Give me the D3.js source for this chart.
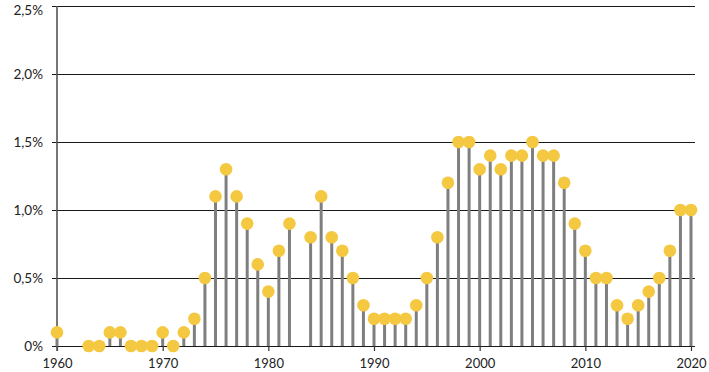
<!DOCTYPE html>
<html><head><meta charset="utf-8">
<script src="https://cdn.jsdelivr.net/npm/d3@7"></script>
<style>body{margin:0;background:#fff}svg{display:block}</style>
</head><body>
<svg id="c" width="709" height="372"></svg>
<script>
const years = [1960,1963,1964,1965,1966,1967,1968,1969,1970,1971,1972,1973,1974,1975,1976,1977,1978,1979,1980,1981,1982,1984,1985,1986,1987,1988,1989,1990,1991,1992,1993,1994,1995,1996,1997,1998,1999,2000,2001,2002,2003,2004,2005,2006,2007,2008,2009,2010,2011,2012,2013,2014,2015,2016,2017,2018,2019,2020];
const values = [0.1,0,0,0.1,0.1,0,0,0,0.1,0,0.1,0.2,0.5,1.1,1.3,1.1,0.9,0.6,0.4,0.7,0.9,0.8,1.1,0.8,0.7,0.5,0.3,0.2,0.2,0.2,0.2,0.3,0.5,0.8,1.2,1.5,1.5,1.3,1.4,1.3,1.4,1.4,1.5,1.4,1.4,1.2,0.9,0.7,0.5,0.5,0.3,0.2,0.3,0.4,0.5,0.7,1.0,1.0];
const yTicks = [0,0.5,1.0,1.5,2.0,2.5];
const xTicks = [1960,1970,1980,1990,2000,2010,2020];

const svg = d3.select("#c");
const x = d3.scaleLinear().domain([1960,2020]).range([57,691]);
const y = d3.scaleLinear().domain([0,2.5]).range([346,6]);
const fmt = v => v===0 ? "0%" : d3.format(".1f")(v).replace(".", ",") + "%";
const font = "Lato, 'Open Sans', sans-serif";

// gridlines + y labels
const yAxis = d3.axisLeft(y).tickValues(yTicks).tickSize(5).tickFormat(fmt);
const gy = svg.append("g").attr("transform","translate(57,0)").call(yAxis);
gy.select(".domain").remove();
gy.selectAll(".tick line").attr("x2", 695-57).attr("x1", -5).attr("stroke","#1a1a1a").attr("stroke-width",1.2);
gy.selectAll(".tick text").attr("x",-14).attr("fill","#222").style("font-family",font).style("font-size","13.5px");
gy.selectAll(".tick text").filter(d=>d===2.5).attr("dy","0.6em");

// x axis
const xAxis = d3.axisBottom(x).tickValues(xTicks).tickSize(5).tickFormat(d3.format("d"));
const gx = svg.append("g").attr("transform","translate(0,346)").call(xAxis);
gx.select(".domain").remove();
gx.selectAll(".tick line").attr("stroke","#333").attr("stroke-width",1.2);
gx.selectAll(".tick text").attr("y",12.5).attr("fill","#222").style("font-family",font).style("font-size","13px");

// vertical axis line
svg.append("line").attr("x1",57).attr("x2",57).attr("y1",y(2.5)).attr("y2",351).attr("stroke","#555").attr("stroke-width",1.6);

// stems
svg.append("g").selectAll("line").data(years).join("line")
  .attr("x1",d=>x(d)).attr("x2",d=>x(d))
  .attr("y1",y(0)).attr("y2",(d,i)=>y(values[i]))
  .attr("stroke","#7f7f7f").attr("stroke-width",3);

// dots
svg.append("g").selectAll("circle").data(years).join("circle")
  .attr("cx",d=>x(d)).attr("cy",(d,i)=>y(values[i]))
  .attr("r",6.3).attr("fill","#f5c842");
</script>
</body></html>
